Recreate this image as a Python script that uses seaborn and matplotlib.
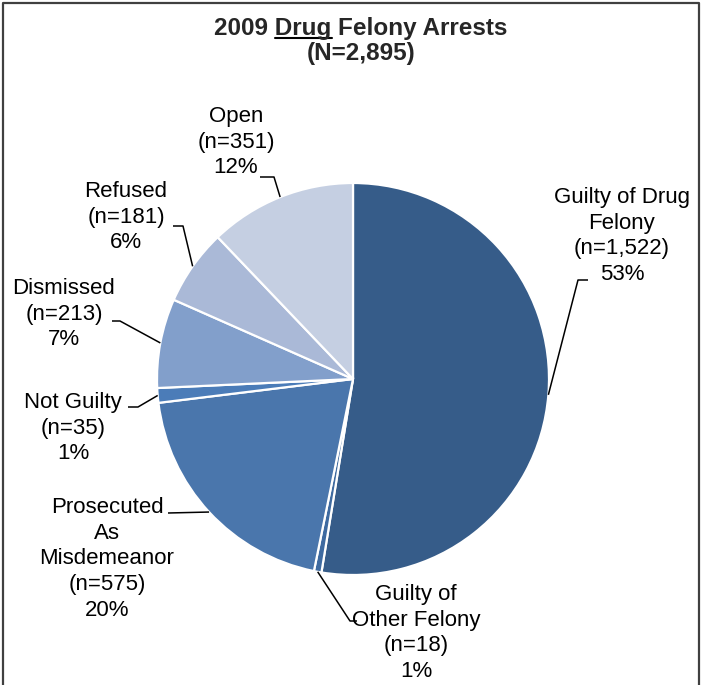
import matplotlib
matplotlib.use("Agg")
import matplotlib.pyplot as plt
import seaborn as sns
import numpy as np

# ---- data ----
categories = ["Guilty of Drug\nFelony", "Guilty of\nOther Felony", "Prosecuted\nAs\nMisdemeanor",
              "Not Guilty", "Dismissed", "Refused", "Open"]
counts = [1522, 18, 575, 35, 213, 181, 351]
percents = ["53%", "1%", "20%", "1%", "7%", "6%", "12%"]
count_labels = ["(n=1,522)", "(n=18)", "(n=575)", "(n=35)", "(n=213)", "(n=181)", "(n=351)"]
title_line1 = "2009 Drug Felony Arrests"
title_line2 = "(N=2,895)"
colors = ["#365C89", "#3E6AA0", "#4A76AC", "#4B7CB8", "#829FCB", "#AAB9D7", "#C5CFE2"]

sns.set_theme(style="white")
plt.rcParams["font.family"] = ["Liberation Sans", "DejaVu Sans"]

W, H = 702, 685
fig = plt.figure(figsize=(W / 100, H / 100), dpi=100)
ax = fig.add_axes([0, 0, 1, 1])

def Y(py):
    return H - py

cx, cy, R = 353, 379, 196
wedges, _ = ax.pie(counts, colors=sns.color_palette(colors), startangle=90, counterclock=False,
                   radius=R, center=(cx, Y(cy)),
                   wedgeprops=dict(edgecolor="white", linewidth=1.6))
ax.set_xlim(0, W)
ax.set_ylim(0, H)
ax.set_aspect("equal")
ax.axis("off")

# label layout: (center x, center y in px from top, leader points from text side)
label_pos = [
    (622, 236, [(588, 280), (578, 280)]),
    (416, 633, [(357, 621), (350, 621)]),
    (107, 559, [(168, 513)]),
    (73, 428, [(128, 407), (138, 407)]),
    (64, 314, [(112, 321), (120, 321)]),
    (126, 217, [(173, 226), (183, 226)]),
    (236, 142, [(260, 177), (274, 177)]),
]

for w, cat, n, p, (lx, ly, pts) in zip(wedges, categories, count_labels, percents, label_pos):
    ax.text(lx, Y(ly), f"{cat}\n{n}\n{p}", ha="center", va="center", fontsize=16,
            linespacing=1.3, color="black")
    mid = np.deg2rad((w.theta1 + w.theta2) / 2)
    ex, ey = w.center[0] + w.r * np.cos(mid), w.center[1] + w.r * np.sin(mid)
    xs = [q[0] for q in pts] + [ex]
    ys = [Y(q[1]) for q in pts] + [ey]
    ax.plot(xs, ys, color="black", lw=1.1, solid_capstyle="butt")

# title with underlined word
TFS = 17.5
t1 = ax.text(361, Y(35), title_line1, ha="center", va="baseline", fontsize=TFS, weight="bold")
ax.text(361, Y(60), title_line2, ha="center", va="baseline", fontsize=TFS, weight="bold")
fig.canvas.draw()
r = fig.canvas.get_renderer()
bb = t1.get_window_extent(r)
tmp = ax.text(0, 0, "2009 Drug", fontsize=TFS, weight="bold")
w_prefix = tmp.get_window_extent(r).width
tmp.set_text("Drug")
w_word = tmp.get_window_extent(r).width
tmp.remove()
x_end = bb.x0 + w_prefix
ax.plot([x_end - w_word, x_end], [Y(38), Y(38)], color="black", lw=1.5)

# border (left, top, right)
ax.plot([3, 3, 699, 699], [0, Y(3), Y(3), 0], color="#404040", lw=1.6, clip_on=False)

fig.savefig("out.png", dpi=100)
